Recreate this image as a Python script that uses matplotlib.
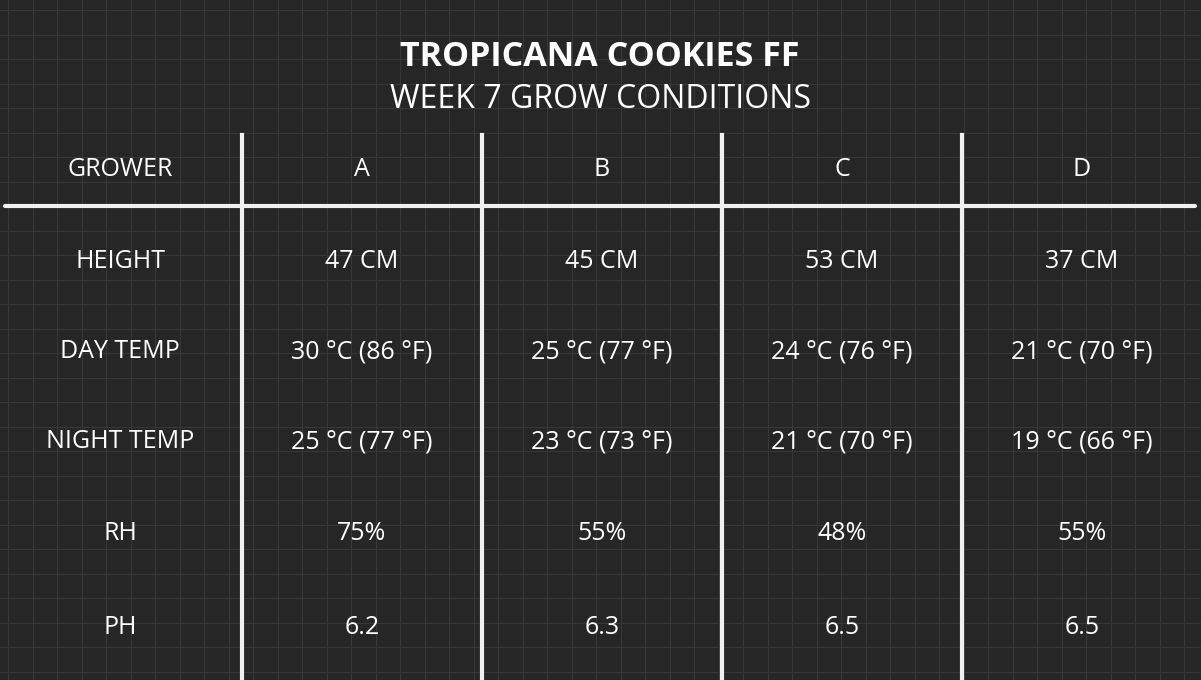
import matplotlib.pyplot as plt
import numpy as np

title = "TROPICANA COOKIES FF"
subtitle = "WEEK 7 GROW CONDITIONS"
header = ["GROWER", "A", "B", "C", "D"]
row_labels = ["HEIGHT", "DAY TEMP", "NIGHT TEMP", "RH", "PH"]
height = ["47 CM", "45 CM", "53 CM", "37 CM"]
day_temp = ["30 °C (86 °F)", "25 °C (77 °F)", "24 °C (76 °F)", "21 °C (70 °F)"]
night_temp = ["25 °C (77 °F)", "23 °C (73 °F)", "21 °C (70 °F)", "19 °C (66 °F)"]
rh = ["75%", "55%", "48%", "55%"]
ph = ["6.2", "6.3", "6.5", "6.5"]
rows = [height, day_temp, night_temp, rh, ph]

plt.rcParams['font.family'] = ['Open Sans', 'DejaVu Sans']
fig = plt.figure(figsize=(12.01, 6.8), dpi=100)
fig.patch.set_facecolor('#262626')
ax = fig.add_axes([0, 0, 1, 1])
ax.set_xlim(0, 1201)
ax.set_ylim(680, 0)
ax.axis('off')

# faint chalkboard grid
for x in np.arange(8, 1201, 24.5):
    ax.axvline(x, color='#383838', lw=0.8, zorder=0)
for y in np.arange(10, 680, 24.5):
    ax.axhline(y, color='#383838', lw=0.8, zorder=0)

ax.text(600, 57, title, color='white', fontsize=24.5, fontweight='bold', ha='center', va='center')
ax.text(600, 100, subtitle, color='white', fontsize=23, ha='center', va='center')

col_x = [120, 362, 602, 842, 1082]
row_y = [262, 352, 442, 534, 628]

fs = 18
for x, h in zip(col_x, header):
    ax.text(x, 170, h, color='white', fontsize=fs, ha='center', va='center')
for y, lab, vals in zip(row_y, row_labels, rows):
    ax.text(col_x[0], y, lab, color='white', fontsize=fs, ha='center', va='center')
    for x, v in zip(col_x[1:], vals):
        ax.text(x, y, v, color='white', fontsize=fs, ha='center', va='center')

# chalk lines
ax.plot([5, 1195], [206, 206], color='#f0f0f0', lw=3, solid_capstyle='round')
for x in [242, 482, 722, 962]:
    ax.plot([x, x], [135, 680], color='#f0f0f0', lw=3)

fig.savefig('out.png', dpi=100, facecolor=fig.get_facecolor())
